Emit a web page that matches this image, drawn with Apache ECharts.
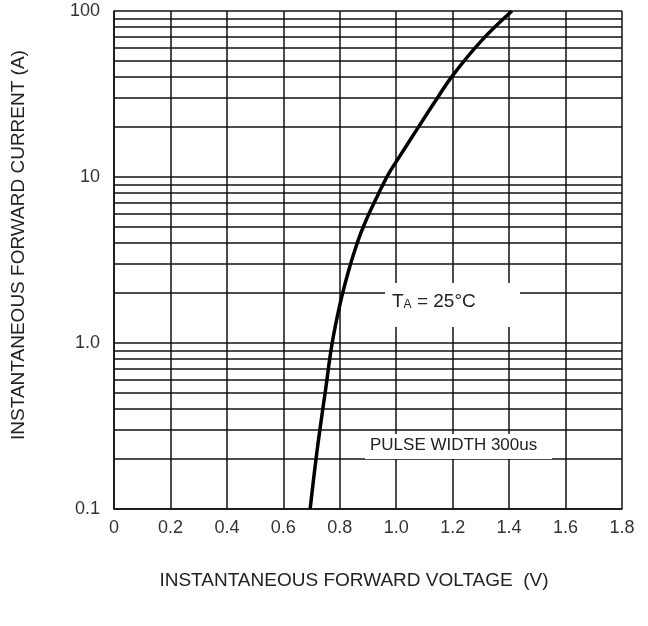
<!DOCTYPE html>
<html>
<head>
<meta charset="utf-8">
<script src="https://cdn.jsdelivr.net/npm/echarts@6/dist/echarts.min.js"></script>
<style>
html, body { margin: 0; padding: 0; background: #fff; }
#chart { width: 648px; height: 626px; }
</style>
</head>
<body>
<div id="chart"></div>
<script>
// forward voltage (V) vs current (A)
var voltage = [0.695, 0.7105, 0.7264, 0.7495, 0.7725, 0.801, 0.833, 0.863, 0.889, 0.928, 0.971, 1.003, 1.056, 1.134, 1.201, 1.304, 1.41];
var current = [0.1, 0.169, 0.275, 0.521, 0.986, 1.72, 2.79, 4.06, 5.28, 7.36, 10.3, 12.6, 17.4, 27.9, 41.1, 66.8, 100];
var yTickLabels = { "0.1": "0.1", "1": "1.0", "10": "10", "100": "100" };
var yMinorGrid = [0.2, 0.3, 0.4, 0.5, 0.6, 0.7, 0.8, 0.9, 2, 3, 4, 5, 6, 7, 8, 9, 20, 30, 40, 50, 60, 70, 80, 90];

var font = "Liberation Sans, Arial, sans-serif";
var gridColor = "#111";

var curve = voltage.map(function (v, i) { return [v, current[i]]; });

var chart = echarts.init(document.getElementById("chart"));
chart.setOption({
	animation: false,
	backgroundColor: "#fff",
	grid: { left: 114, right: 26, top: 11, bottom: 117 },
	xAxis: {
		type: "value",
		min: 0,
		max: 1.8,
		interval: 0.2,
		name: "INSTANTANEOUS FORWARD VOLTAGE  (V)",
		nameLocation: "middle",
		nameGap: 62,
		nameTextStyle: { color: "#222", fontSize: 19, fontFamily: font, padding: [0, 28, 0, 0] },
		axisLine: { lineStyle: { color: gridColor, width: 1.5 } },
		axisTick: { show: false },
		axisLabel: {
			color: "#333", fontSize: 18, fontFamily: font, margin: 10,
			formatter: function (v) { return v === 0 ? "0" : v.toFixed(1); }
		},
		splitLine: { show: true, lineStyle: { color: gridColor, width: 1.5 } }
	},
	yAxis: {
		type: "log",
		logBase: 10,
		min: 0.1,
		max: 100,
		name: "INSTANTANEOUS FORWARD CURRENT (A)",
		nameLocation: "middle",
		nameGap: 86,
		nameRotate: 90,
		nameTextStyle: { color: "#222", fontSize: 19, fontFamily: font, padding: [0, 0, 0, 30] },
		axisLine: { show: true, lineStyle: { color: gridColor, width: 1.5 } },
		axisTick: { show: false },
		axisLabel: {
			color: "#333", fontSize: 18, fontFamily: font, margin: 14,
			formatter: function (v) {
				var k = String(+v.toPrecision(3));
				return yTickLabels[k] !== undefined ? yTickLabels[k] : "";
			}
		},
		splitLine: { show: true, lineStyle: { color: gridColor, width: 1.5 } }
	},
	series: [{
		type: "line",
		data: curve,
		smooth: 0.4,
		showSymbol: false,
		z: 5,
		lineStyle: { color: "#000", width: 3.5 },
		markLine: {
			silent: true,
			symbol: ["none", "none"],
			label: { show: false },
			lineStyle: { color: gridColor, width: 1.5, type: "solid" },
			z: 1,
			data: yMinorGrid.map(function (v) { return { yAxis: v }; })
		}
	}],
	graphic: [
		{
			type: "rect", z: 100,
			shape: { x: 385, y: 283, width: 135, height: 44 },
			style: { fill: "#fff" }
		},
		{
			type: "text", z: 101, left: 392, top: 292,
			style: {
				text: "T{s|A} = 25°C",
				fill: "#222", fontSize: 19, fontFamily: font,
				rich: { s: { fontSize: 12, fontFamily: font, fill: "#222", padding: [6, 0, 0, 0] } }
			}
		},
		{
			type: "rect", z: 100,
			shape: { x: 365, y: 434, width: 187, height: 25 },
			style: { fill: "#fff" }
		},
		{
			type: "text", z: 101, left: 370, top: 437,
			style: { text: "PULSE WIDTH 300us", fill: "#222", fontSize: 17, fontFamily: font }
		}
	]
});
</script>
</body>
</html>
